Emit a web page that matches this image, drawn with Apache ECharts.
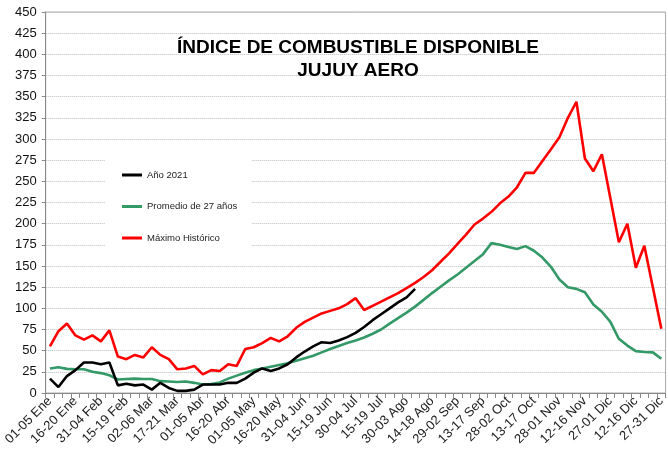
<!DOCTYPE html>
<html>
<head>
<meta charset="utf-8">
<script src="https://cdn.jsdelivr.net/npm/echarts@6/dist/echarts.min.js"></script>
<style>
  html, body { margin: 0; padding: 0; background: #fff; }
  #chart { width: 668px; height: 455px; }
</style>
</head>
<body>
<div id="chart"></div>
<script>
// pentadas (5 dias) del año
var categorias = [
  '01-05 Ene', '06-10 Ene', '11-15 Ene', '16-20 Ene', '21-25 Ene', '26-30 Ene',
  '31-04 Feb', '05-09 Feb', '10-14 Feb', '15-19 Feb', '20-24 Feb', '25-01 Mar',
  '02-06 Mar', '07-11 Mar', '12-16 Mar', '17-21 Mar', '22-26 Mar', '27-31 Mar',
  '01-05 Abr', '06-10 Abr', '11-15 Abr', '16-20 Abr', '21-25 Abr', '26-30 Abr',
  '01-05 May', '06-10 May', '11-15 May', '16-20 May', '21-25 May', '26-30 May',
  '31-04 Jun', '05-09 Jun', '10-14 Jun', '15-19 Jun', '20-24 Jun', '25-29 Jun',
  '30-04 Jul', '05-09 Jul', '10-14 Jul', '15-19 Jul', '20-24 Jul', '25-29 Jul',
  '30-03 Ago', '04-08 Ago', '09-13 Ago', '14-18 Ago', '19-23 Ago', '24-28 Ago',
  '29-02 Sep', '03-07 Sep', '08-12 Sep', '13-17 Sep', '18-22 Sep', '23-27 Sep',
  '28-02 Oct', '03-07 Oct', '08-12 Oct', '13-17 Oct', '18-22 Oct', '23-27 Oct',
  '28-01 Nov', '02-06 Nov', '07-11 Nov', '12-16 Nov', '17-21 Nov', '22-26 Nov',
  '27-01 Dic', '02-06 Dic', '07-11 Dic', '12-16 Dic', '17-21 Dic', '22-26 Dic',
  '27-31 Dic'
];

var anio2021 = [
  17, 7, 20, 27, 36, 36, 34, 36, 9, 11, 9, 10, 4, 12, 6, 2.5, 2.5, 4,
  10, 10, 10, 12, 12, 17, 24, 29, 26, 29, 34, 42, 49, 55, 60, 59, 62, 66,
  71, 78, 86, 93, 100, 107, 113, 123
];

var promedio27 = [
  29, 30.5, 28.5, 28, 28, 25, 23.5, 21, 16, 16.5, 17, 16.5, 16.5, 14, 13.5, 13, 13.5, 12,
  10, 10.5, 12.5, 17, 20.5, 24, 27, 29, 31, 33, 35, 38, 41, 44, 48, 52, 55.5, 59,
  62, 65.5, 70, 75, 82, 88.5, 95, 102, 110, 118, 125.5, 133, 140, 148, 156, 164,
  177, 175, 172.5, 170, 173.5, 168, 160, 149, 134, 125, 123, 119, 104.5, 96, 84, 64,
  56, 49.5, 48.5, 48, 40.5
];

var maximoHistorico = [
  55, 73, 82, 68, 63, 68, 61, 74, 43, 40, 45, 42, 54, 45, 40, 28, 29, 32,
  22, 27, 26, 34, 32, 52, 54, 59, 65, 61, 67, 77, 84, 89, 94, 97, 100, 105,
  112, 98, 103, 108, 113, 118, 124, 130, 137, 145, 155, 165, 176, 187, 199, 206,
  214, 224, 232, 243, 260, 260, 274, 288, 302, 325, 344, 277, 262, 282, 230, 178,
  200, 148, 174, 125, 76
];

var myChart = echarts.init(document.getElementById('chart'));

var option = {
  animation: false,
  backgroundColor: '#fff',
  textStyle: { fontFamily: '"Liberation Sans", Arial, sans-serif' },
  graphic: [{
    type: 'text',
    x: 358,
    y: 36,
    z: 10,
    style: {
      text: 'ÍNDICE DE COMBUSTIBLE DISPONIBLE\nJUJUY AERO',
      align: 'center',
      verticalAlign: 'top',
      fill: '#000',
      font: 'bold 19px "Liberation Sans", Arial, sans-serif',
      lineHeight: 23
    }
  }],
  legend: {
    orient: 'vertical',
    left: 105,
    top: 152,
    padding: [18, 14, 12, 17],
    backgroundColor: '#fff',
    icon: 'rect',
    itemWidth: 20,
    itemHeight: 3,
    itemGap: 21.5,
    textStyle: { fontSize: 9.5, color: '#222' },
    data: ['Año 2021', 'Promedio de 27 años', 'Máximo Histórico']
  },
  grid: {
    left: 45.7,
    top: 12,
    width: 626,
    height: 381,
    show: true,
    borderColor: '#aaa',
    borderWidth: 1
  },
  xAxis: {
    type: 'category',
    data: categorias,
    boundaryGap: true,
    axisLine: { lineStyle: { color: '#888' } },
    axisTick: { show: true, interval: 0, length: 5, lineStyle: { color: '#888' } },
    axisLabel: {
      interval: 2,
      rotate: 45,
      margin: 6,
      fontSize: 13,
      color: '#222'
    },
    splitLine: { show: false }
  },
  yAxis: {
    type: 'value',
    min: 0,
    max: 450,
    interval: 25,
    axisLine: { show: true, lineStyle: { color: '#888' } },
    axisTick: { show: true, length: 4, lineStyle: { color: '#888' } },
    axisLabel: { fontSize: 13, color: '#111', margin: 9 },
    splitLine: { lineStyle: { color: '#bbb', type: 'dotted', width: 1 } }
  },
  series: [{
    name: 'Año 2021',
    type: 'line',
    data: anio2021,
    showSymbol: false,
    lineStyle: { color: '#000', width: 2.6 },
    itemStyle: { color: '#000' },
    z: 3
  }, {
    name: 'Promedio de 27 años',
    type: 'line',
    data: promedio27,
    showSymbol: false,
    lineStyle: { color: '#339966', width: 2.6 },
    itemStyle: { color: '#339966' },
    z: 2
  }, {
    name: 'Máximo Histórico',
    type: 'line',
    data: maximoHistorico,
    showSymbol: false,
    lineStyle: { color: '#ff0000', width: 2.6 },
    itemStyle: { color: '#ff0000' },
    z: 2
  }]
};
myChart.setOption(option);
</script>
</body>
</html>
